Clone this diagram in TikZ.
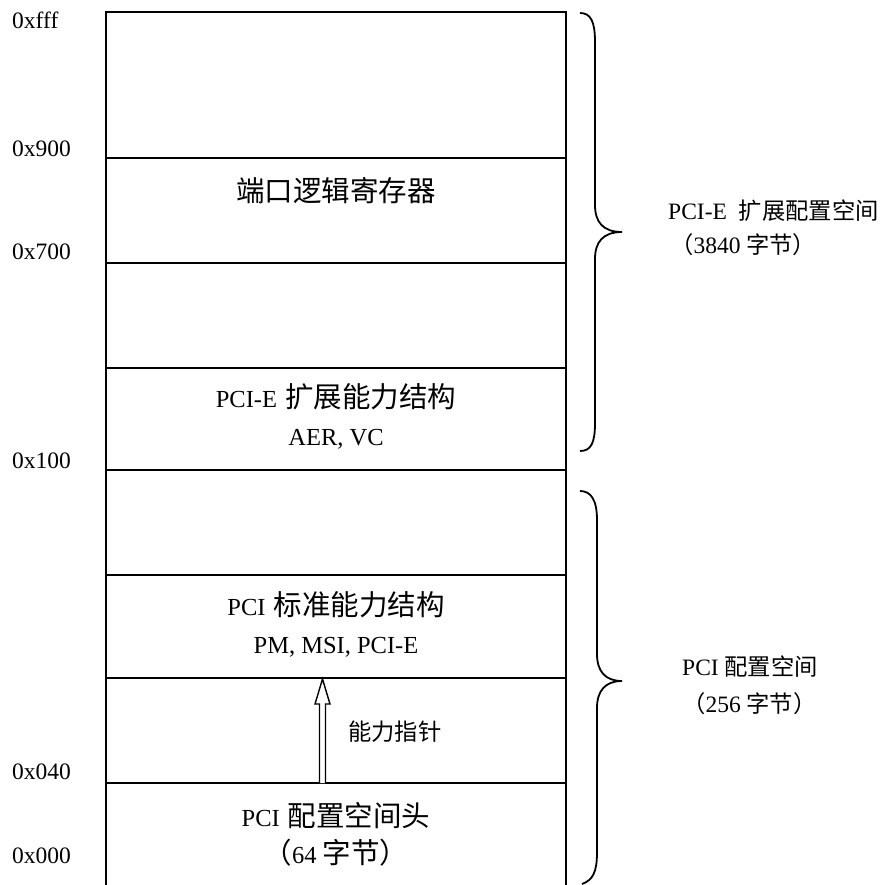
\documentclass[tikz,border=0pt]{standalone}
\usepackage{fontspec}
\usetikzlibrary{calc}
\setmainfont{Liberation Serif}
\newfontfamily\cjk{Noto Sans CJK SC}
\newcommand\lat{\fontsize{23.5}{28}\selectfont}
\newcommand\latbox{\fontsize{24.5}{28}\selectfont}
\newcommand\cbig{\cjk\fontsize{28.5}{30}\selectfont}
\newcommand\csmall{\cjk\fontsize{23.3}{28}\selectfont}
\tikzset{
  addr/.style={anchor=base west, inner sep=0pt, font=\lat},
  boxtxt/.style={anchor=base, inner sep=0pt, font=\latbox},
  side/.style={anchor=base west, inner sep=0pt, font=\lat},
  wall/.style={line width=2.2pt},
  divider/.style={line width=1.8pt},
  bracepath/.style={line width=1.8pt},
  hollowarrow/.style={line width=1.4pt, fill=white, line join=miter}
}
\begin{document}
\begin{tikzpicture}[x=1pt,y=-1pt]
\useasboundingbox (0,0) rectangle (885,884);
% outer walls and dividers
\coordinate (tl) at (106,12);
\coordinate (tr) at (566,12);
\draw[wall] (106,890) -- (tl) -- (tr) -- (566,890);
\foreach \yy in {158,263,368,470,575,678,783}
  \draw[divider] (106,\yy) -- (566,\yy);
% address labels
\node[addr] (afff) at (12,28)  {0xfff};
\node[addr] (a900) at (12,156) {0x900};
\node[addr] (a700) at (12,259) {0x700};
\node[addr] (a100) at (12,468) {0x100};
\node[addr] (a040) at (12,779) {0x040};
\node[addr] (a000) at (12,863) {0x000};
% box texts
\node[boxtxt] (port) at (336,201) {\cbig 端口逻辑寄存器};
\node[boxtxt] (pcie1) at (336,407) {PCI-E\hspace{2pt} {\cbig 扩展能力结构}};
\node[boxtxt] (pcie2) at (336,445) {AER, VC};
\node[boxtxt] (std1) at (336,615) {PCI\hspace{2pt} {\cbig 标准能力结构}};
\node[boxtxt] (std2) at (336,653) {PM, MSI, PCI-E};
\node[boxtxt] (hdr1) at (336,826) {PCI\hspace{2pt} {\cbig 配置空间头}};
\node[boxtxt] (hdr2) at (336,863) {{\cbig （}64 {\cbig 字节）}};
\node[anchor=base west, inner sep=0pt, font=\csmall] (ptr) at (348,740) {能力指针};
% hollow arrow
\coordinate (abot) at (322.5,783);
\coordinate (atip) at (322.5,679);
\draw[hollowarrow] ($(abot)+(-3,0)$) -- (319.5,704) -- (315,704) -- (atip) -- (330,704) -- (325.5,704) -- ($(abot)+(3,0)$);
% braces
\draw[bracepath] (580,13) .. controls (591,13) and (595,22) .. (595,42) -- (595,205)
  .. controls (595,222) and (603,232) .. (622,232)
  .. controls (603,232) and (595,242) .. (595,259) -- (595,423)
  .. controls (595,443) and (591,451) .. (580,451);
\draw[bracepath] (580,491) .. controls (591,491) and (597,500) .. (597,520) -- (597,654)
  .. controls (597,671) and (605,681) .. (622,681)
  .. controls (605,681) and (597,691) .. (597,708) -- (597,852)
  .. controls (597,872) and (593,880) .. (582,884);
% side labels
\node[side] (ext1) at (668,219) {PCI-E\hspace{12pt}{\csmall 扩展配置空间}};
\node[side] (ext2) at (670,253) {{\csmall （}3840 {\csmall 字节）}};
\node[side] (cfg1) at (682,675) {PCI {\csmall 配置空间}};
\node[side] (cfg2) at (682,712) {{\csmall （}256 {\csmall 字节）}};
\end{tikzpicture}
\end{document}
